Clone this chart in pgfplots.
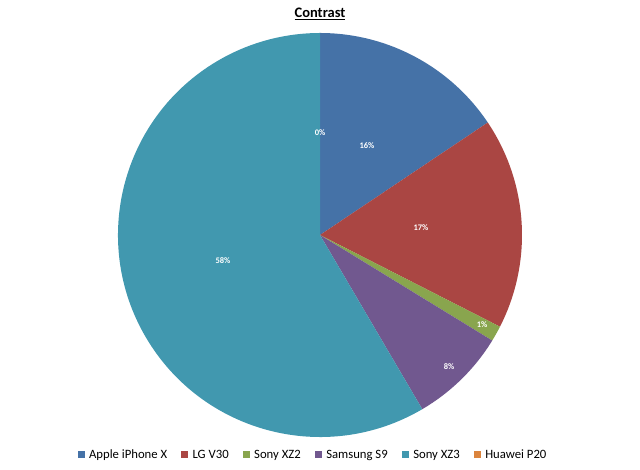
\documentclass[border=0pt]{standalone}
\usepackage{pgfplots}
\pgfplotsset{compat=1.18}
\usepackage{fontspec}
\setmainfont{Carlito}
\definecolor{cA}{HTML}{4572A7}
\definecolor{cB}{HTML}{AA4643}
\definecolor{cC}{HTML}{89A54E}
\definecolor{cD}{HTML}{71588F}
\definecolor{cE}{HTML}{4198AF}
\definecolor{cF}{HTML}{DB843D}
% shares (percent)
\def\vA{15.6}  % Apple iPhone X
\def\vB{16.9}  % LG V30
\def\vC{1.25}  % Sony XZ2
\def\vD{7.8}   % Samsung S9
\def\vE{58.45} % Sony XZ3
\def\vF{0}     % Huawei P20
\pgfmathsetmacro\aA{90}
\pgfmathsetmacro\aB{\aA-3.6*\vA}
\pgfmathsetmacro\aC{\aB-3.6*\vB}
\pgfmathsetmacro\aD{\aC-3.6*\vC}
\pgfmathsetmacro\aE{\aD-3.6*\vD}
\pgfmathsetmacro\aF{\aE-3.6*\vE}
\def\R{202pt}
\begin{document}
\begin{tikzpicture}
\begin{axis}[
  scale only axis, width=640pt, height=470pt,
  xmin=-320, xmax=320, ymin=-235, ymax=235,
  hide axis, clip=false,
  legend columns=-1,
  legend style={draw=none, fill=none, font=\fontsize{12.7}{14}\selectfont,
    at={(axis cs:-7,-220)}, anchor=center, inner sep=0pt,
    /tikz/every even column/.append style={column sep=12pt}},
  legend image code/.code={\fill[#1, draw=none] (0pt,-3.5pt) rectangle (7pt,3.5pt); \path[draw=none, fill=none] (0pt,0pt) (9.5pt,0pt);},
]
\path (axis cs:-320,-235) rectangle (axis cs:320,235);
\fill[cA] (axis cs:0,0) -- ++(\aA:\R) arc[start angle=\aA, end angle=\aB, radius=\R] -- cycle;
\fill[cB] (axis cs:0,0) -- ++(\aB:\R) arc[start angle=\aB, end angle=\aC, radius=\R] -- cycle;
\fill[cC] (axis cs:0,0) -- ++(\aC:\R) arc[start angle=\aC, end angle=\aD, radius=\R] -- cycle;
\fill[cD] (axis cs:0,0) -- ++(\aD:\R) arc[start angle=\aD, end angle=\aE, radius=\R] -- cycle;
\fill[cE] (axis cs:0,0) -- ++(\aE:\R) arc[start angle=\aE, end angle=\aF, radius=\R] -- cycle;
\addlegendimage{cA}\addlegendentry{Apple iPhone X}
\addlegendimage{cB}\addlegendentry{LG V30}
\addlegendimage{cC}\addlegendentry{Sony XZ2}
\addlegendimage{cD}\addlegendentry{Samsung S9}
\addlegendimage{cE}\addlegendentry{Sony XZ3}
\addlegendimage{cF}\addlegendentry{Huawei P20}
\tikzset{lab/.style={text=white, font=\bfseries\fontsize{8.5}{9}\selectfont, inner sep=0pt}}
\node[lab] at (axis cs:0,102) {0\%};
\node[lab] at (axis cs:47,89) {16\%};
\node[lab] at (axis cs:101,7) {17\%};
\node[lab] at (axis cs:162,-90) {1\%};
\node[lab] at (axis cs:129,-132) {8\%};
\node[lab] at (axis cs:-97,-26) {58\%};
\node[font=\bfseries\fontsize{14.5}{16}\selectfont, inner sep=0pt] at (axis cs:0,221) {\underline{Contrast}};
\end{axis}
\end{tikzpicture}
\end{document}
